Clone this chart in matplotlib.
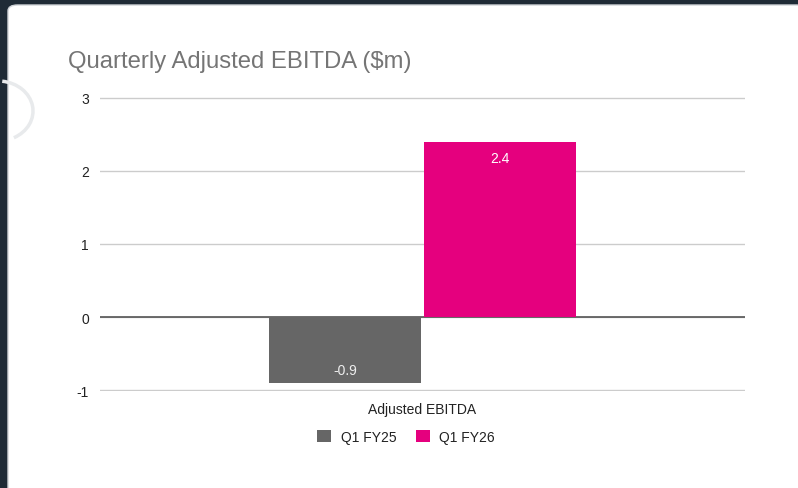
import numpy as np
import matplotlib
matplotlib.use("Agg")
import matplotlib.pyplot as plt
from matplotlib.patches import FancyBboxPatch, Arc

# data
category = ["Adjusted EBITDA"]
series = ["Q1 FY25", "Q1 FY26"]
values = [-0.9, 2.4]
colors = ["#666666", "#e5007e"]
yticks = [-1, 0, 1, 2, 3]

plt.rcParams["font.family"] = ["Liberation Sans", "DejaVu Sans"]

W, H = 798, 489
fig = plt.figure(figsize=(W / 100, H / 100), dpi=100, facecolor="#1f2b36")

# white card on dark page
card = FancyBboxPatch((8 / W, -0.05), 1.0, 1 - 6 / H + 0.05, boxstyle="round,pad=0,rounding_size=0.012",
                      transform=fig.transFigure, facecolor="white", edgecolor="#d0d4d8", lw=1, zorder=-10)
fig.patches.append(card)
arc = Arc((-2 / W, 1 - 112 / H), 70 / W, 60 / H, theta1=-70, theta2=85, transform=fig.transFigure,
          color="#e8eaec", lw=2.5, zorder=-9)
fig.patches.append(arc)

ax = fig.add_axes([100 / W, 1 - 392 / H, 645 / W, 294 / H])
ax.set_facecolor("none")
ax.set_zorder(5)

x = np.arange(len(category))
width = 0.235
offsets = [-0.12, 0.12]
for i, (s, v, c) in enumerate(zip(series, values, colors)):
    bars = ax.bar(x + offsets[i], [v], width=width, color=c, label=s, zorder=3)
    for b in bars:
        h = b.get_height()
        ypos = h - 0.22 if h > 0 else h + 0.18
        ax.text(b.get_x() + b.get_width() / 2, ypos, f"{h:.1f}", ha="center", va="center",
                color="white" if h > 0 else "#eeeeee", fontsize=10, zorder=4)

ax.set_xlim(-0.5, 0.5)
ax.set_ylim(-1.01, 3.01)
ax.set_yticks(yticks)
ax.set_yticklabels([str(t) for t in yticks])
ax.set_xticks(x)
ax.set_xticklabels(category)
ax.grid(axis="y", color="#cccccc", lw=1, zorder=0)
ax.axhline(0, color="#555555", lw=1.2, zorder=2)
for sp in ax.spines.values():
    sp.set_visible(False)
ax.tick_params(axis="both", length=0, labelsize=10, colors="#222222")
ax.tick_params(axis="y", pad=8)
ax.tick_params(axis="x", pad=8)

fig.text(68 / W, 1 - 62 / H, "Quarterly Adjusted EBITDA ($m)", fontsize=17.2, color="#757575",
         ha="left", va="center")

fig.legend(loc="center", bbox_to_anchor=(0.5 * (312 + 500) / W, 1 - 438 / H), ncol=2, frameon=False,
           fontsize=10, handlelength=1.0, handleheight=1.0, handletextpad=0.7, columnspacing=1.4,
           labelcolor="#222222")

fig.savefig("out.png", dpi=100, facecolor=fig.get_facecolor())
